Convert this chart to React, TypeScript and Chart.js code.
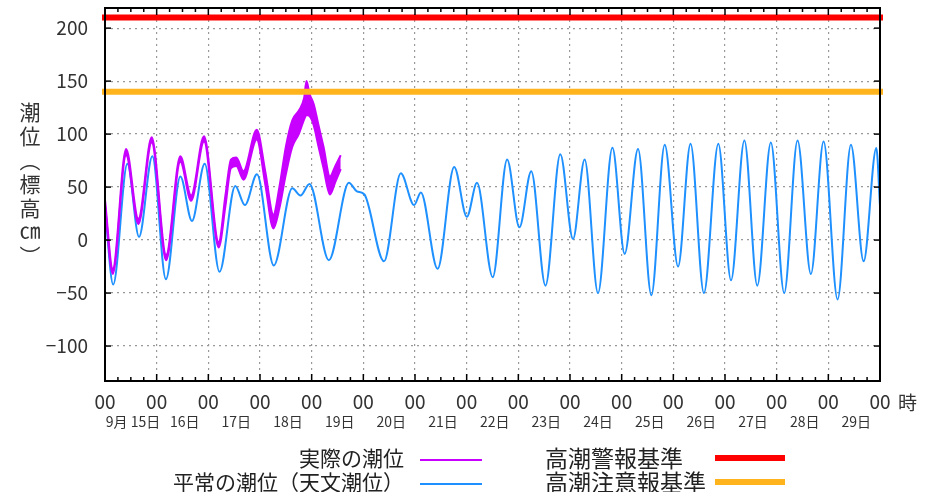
import React, { useEffect, useRef } from "react";
import { Chart, registerables } from "chart.js";

Chart.register(...registerables);

// ---- data ----
const dayLabels = ["9月 15日", "16日", "17日", "18日", "19日", "20日", "21日", "22日", "23日", "24日", "25日", "26日", "27日", "28日", "29日"];
const midnightLabel = "00";
const yTickValues = [-100, -50, 0, 50, 100, 150, 200];
const hourMin = 0;
const hourMax = 360;
const levelMin = -133;
const levelMax = 219;
const warningLevel = 210; // 高潮警報基準
const advisoryLevel = 140; // 高潮注意報基準

// 平常の潮位 (天文潮位): hours since 9/15 00:00, level in cm
const astroHours = [0, 3.8, 10.4, 15.8, 22, 28.3, 35, 40.4, 46.3, 53.2, 60.5, 65, 70.6, 78.4, 87, 90.8, 95, 104, 113.3, 117, 120.5, 129.6, 137.4, 143.6, 146.7, 154.5, 162.2, 168.1, 172.8, 180.1, 186.8, 192.5, 198, 204.6, 211.5, 217.4, 222.8, 229, 235.7, 241.4, 247.6, 253.8, 260, 266.2, 272, 278.2, 284.9, 290.8, 297, 303, 309.3, 315.5, 321.7, 327.9, 333.8, 340.3, 346.5, 352.4, 358.3, 360];
const astroLevels = [30, -42, 72, 3, 79, -37, 60, 18, 72, -30, 51, 33, 62, -24, 49, 42, 53, -19, 54, 46, 43, -20, 63, 33, 45, -27, 69, 22, 54, -35, 76, 12, 65, -43, 81, 1, 76, -50, 87, -13, 86, -52, 90, -25, 91, -50, 91, -38, 94, -43, 92, -50, 94, -32, 93, -56, 90, -20, 87, 32];

// 実際の潮位: lower / upper edge of the observed trace
const actualHours = [0, 3.6, 9.8, 15.5, 21.7, 28.4, 35, 40, 46, 52.8, 56, 58.5, 61, 64.3, 70.5, 74.5, 78.2, 81, 84, 87, 90, 92.5, 93.6, 95, 97, 99, 101.5, 104.5, 107, 109.5];
const actualLow = [33, -32, 80, 15, 92, -19, 74, 37, 93, -7, 33, 68, 70, 57, 95, 52, 11, 30, 62, 88, 100, 114, 118, 117, 108, 90, 68, 43, 55, 67];
const actualHigh = [38, -27, 86, 20, 97, -14, 79, 42, 98, -2, 43, 76, 78, 65, 104, 64, 24, 50, 88, 113, 122, 134, 150, 138, 128, 110, 88, 60, 70, 80];

const FONT = '"Noto Sans CJK JP", "Noto Sans", sans-serif';
const PURPLE = "#c800ff";
const BLUE = "#1e90ff";
const RED = "#ff0000";
const ORANGE = "#ffb41e";
const minorTickHours = 6;
const dayHours = 24;
const dateLabelOffsetHours = 13;

const frameTicks = {
  id: "frameTicks",
  afterDatasetsDraw(chart: any) {
    const { ctx, chartArea, scales } = chart;
    const { left, right, top, bottom } = chartArea;
    ctx.save();
    ctx.strokeStyle = "#000";
    ctx.lineWidth = 1.5;
    const seg = (x1: number, y1: number, x2: number, y2: number) => {
      ctx.beginPath();
      ctx.moveTo(x1, y1);
      ctx.lineTo(x2, y2);
      ctx.stroke();
    };
    for (const v of yTickValues) {
      const py = scales.y.getPixelForValue(v);
      seg(left, py, left + 6, py);
      seg(right - 6, py, right, py);
    }
    for (let h = hourMin; h <= hourMax; h += minorTickHours) {
      const px = scales.x.getPixelForValue(h);
      const len = h % dayHours === 0 ? 7 : 4;
      seg(px, bottom, px, bottom - len);
      seg(px, top, px, top + len);
    }
    ctx.lineWidth = 2;
    ctx.strokeRect(left, top, right - left, bottom - top);
    ctx.restore();
  },
};

export default function App() {
  const canvasRef = useRef<HTMLCanvasElement | null>(null);

  useEffect(() => {
    if (!canvasRef.current) return;
    const flat = (lvl: number) => [
      { x: hourMin, y: lvl },
      { x: hourMax, y: lvl },
    ];
    const noHorizPad = (scale: any) => {
      scale.paddingLeft = 0;
      scale.paddingRight = 0;
      scale.paddingTop = 0;
      scale.paddingBottom = 0;
    };
    const chart = new Chart(canvasRef.current, {
      type: "line",
      data: {
        datasets: [
          {
            label: "高潮警報基準",
            data: flat(warningLevel),
            borderColor: RED,
            borderWidth: 6,
            borderCapStyle: "square",
            pointRadius: 0,
            clip: 4,
          } as any,
          {
            label: "高潮注意報基準",
            data: flat(advisoryLevel),
            borderColor: ORANGE,
            borderWidth: 6,
            borderCapStyle: "square",
            pointRadius: 0,
            clip: 4,
          } as any,
          {
            label: "実際の潮位",
            data: actualHours.map((h, i) => ({ x: h, y: actualHigh[i] })),
            borderColor: PURPLE,
            borderWidth: 2,
            pointRadius: 0,
            cubicInterpolationMode: "monotone",
          },
          {
            label: "実際の潮位(下端)",
            data: actualHours.map((h, i) => ({ x: h, y: actualLow[i] })),
            borderColor: PURPLE,
            backgroundColor: PURPLE,
            borderWidth: 2,
            pointRadius: 0,
            cubicInterpolationMode: "monotone",
            fill: "-1",
          },
          {
            label: "平常の潮位(天文潮位)",
            data: astroHours.map((h, i) => ({ x: h, y: astroLevels[i] })),
            borderColor: BLUE,
            borderWidth: 2,
            pointRadius: 0,
            cubicInterpolationMode: "monotone",
          },
        ],
      },
      options: {
        animation: false,
        responsive: false,
        layout: { padding: { top: 8, left: 0, right: 55, bottom: 57 } },
        plugins: { legend: { display: false }, tooltip: { enabled: false } },
        scales: {
          x: {
            type: "linear",
            position: "bottom",
            weight: 0,
            min: hourMin,
            max: hourMax,
            afterBuildTicks: (scale: any) => {
              const t = [];
              for (let h = hourMin; h <= hourMax; h += dayHours) t.push({ value: h });
              scale.ticks = t;
            },
            afterFit: (scale: any) => {
              scale.height = 30;
              noHorizPad(scale);
            },
            ticks: {
              callback: () => midnightLabel,
              font: { family: FONT, size: 19 },
              color: "#333",
              padding: 9,
              maxRotation: 0,
              autoSkip: false,
            },
            grid: { color: "#999", lineWidth: 1.2, drawTicks: false },
            border: { display: false, dash: [2, 4] },
          },
          x2: {
            type: "linear",
            position: "bottom",
            weight: 1,
            min: hourMin,
            max: hourMax,
            afterBuildTicks: (scale: any) => {
              scale.ticks = dayLabels.map((_, d) => ({ value: d * dayHours + dateLabelOffsetHours }));
            },
            afterFit: (scale: any) => {
              scale.height = 24;
              noHorizPad(scale);
            },
            ticks: {
              callback: (_v: any, i: number) => dayLabels[i],
              font: { family: FONT, size: 14 },
              color: "#333",
              padding: 2,
              maxRotation: 0,
              autoSkip: false,
            },
            grid: { display: false, drawTicks: false },
            border: { display: false },
          },
          y: {
            type: "linear",
            min: levelMin,
            max: levelMax,
            afterBuildTicks: (scale: any) => {
              scale.ticks = yTickValues.map((v) => ({ value: v }));
            },
            afterFit: (scale: any) => {
              scale.width = 105;
              noHorizPad(scale);
            },
            ticks: {
              callback: (v: any) => (Number(v) < 0 ? "−" + Math.abs(Number(v)) : String(v)),
              font: { family: FONT, size: 19 },
              color: "#333",
              padding: 17,
            },
            grid: { color: "#999", lineWidth: 1.2, drawTicks: false },
            border: { display: false, dash: [2, 4] },
          },
        },
      } as any,
      plugins: [frameTicks],
    });
    return () => chart.destroy();
  }, []);

  const textBase: React.CSSProperties = {
    position: "absolute",
    fontFamily: FONT,
    color: "#222",
    whiteSpace: "nowrap",
    lineHeight: "24px",
  };

  return (
    <div style={{ position: "fixed", left: 0, top: 0, width: 935, height: 492, background: "#fff" }}>
      <canvas ref={canvasRef} width={935} height={492} style={{ position: "absolute", left: 0, top: 0 }} />
      <div
        style={{
          position: "absolute",
          left: 19,
          top: 102,
          writingMode: "vertical-rl",
          fontFamily: FONT,
          fontSize: 21,
          letterSpacing: 3,
          lineHeight: "21px",
          color: "#333",
        }}
      >
        潮位（標高㎝）
      </div>
      <div style={{ ...textBase, left: 898, top: 390, fontSize: 19, color: "#333" }}>時</div>

      <div style={{ ...textBase, left: 0, width: 404, textAlign: "right", top: 445, fontSize: 21 }}>実際の潮位</div>
      <div style={{ ...textBase, left: 0, width: 404, textAlign: "right", top: 469, fontSize: 21 }}>平常の潮位（天文潮位）</div>
      <div style={{ position: "absolute", left: 420, top: 459, width: 62, height: 2, background: PURPLE }} />
      <div style={{ position: "absolute", left: 420, top: 483, width: 62, height: 2, background: BLUE }} />

      <div style={{ ...textBase, left: 545, top: 445, fontSize: 23 }}>高潮警報基準</div>
      <div style={{ ...textBase, left: 545, top: 469, fontSize: 23 }}>高潮注意報基準</div>
      <div style={{ position: "absolute", left: 715, top: 455, width: 70, height: 6, background: RED }} />
      <div style={{ position: "absolute", left: 715, top: 479, width: 70, height: 6, background: ORANGE }} />
    </div>
  );
}
